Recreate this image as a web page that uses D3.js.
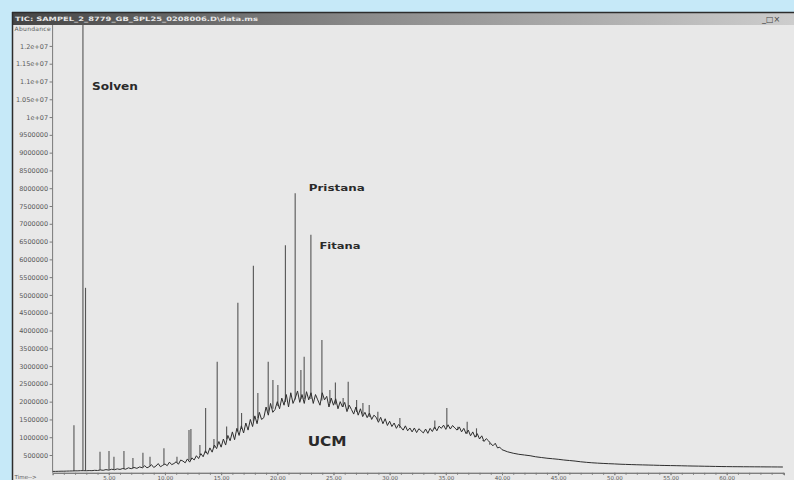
<!DOCTYPE html>
<html>
<head>
<meta charset="utf-8">
<script src="https://cdn.jsdelivr.net/npm/d3@7"></script>
<style>
  html, body { margin: 0; padding: 0; background: #c6e9f8; overflow: hidden; }
  svg { display: block; }
</style>
</head>
<body>
<div id="chart"></div>
<script>
// TIC chromatogram, values
// scan trace: abundance in thousands, sampled at a fixed step (min)
const scanAStart = 0, scanAStep = 0.25;
const scanA = [40, 40, 42, 45, 45, 48, 50, 52, 55, 55, 60, 60, 58, 62, 60, 70, 65,
    80, 70, 90, 75, 100, 85, 110, 95, 120, 100, 140, 115, 150, 125, 165, 140];

const scanBStart = 8.2, scanBStep = 0.2;
const scanB = [
    200, 140, 170, 230, 150,   190, 260, 170, 210, 250,
    200, 300, 230, 260, 310,   240, 360, 330, 280, 390,
    300, 420, 360, 480, 400,   540, 450, 620, 520, 700,
    580, 780, 680, 880, 720,   950, 780, 1050, 900, 1150,
    930, 1250, 1050, 1320, 1120,   1400, 1200, 1500, 1300, 1600,
    1380, 1700, 1500, 1550, 1850,   1620, 1950, 1700, 1780, 2000,
    1800, 2100, 1900, 2200, 1850,   2250, 1950, 2100, 2300, 1980,
    2200, 1950, 2280, 2050, 2250,   1950, 2200, 2050, 1900, 2250,
    2050, 2150, 1850, 2100, 1900,   2080, 1800, 2000, 1850, 1980,
    1720, 1900, 1780, 1650, 1850,   1620, 1800, 1580, 1700, 1550,
    1680, 1500, 1620, 1560, 1420,   1560, 1380, 1520, 1330, 1450,
    1300, 1400, 1250, 1360, 1280,   1200, 1320, 1180, 1260, 1150,
    1260, 1130, 1240, 1180, 1120,   1230, 1110, 1250, 1160, 1290,
    1180, 1310, 1250, 1340, 1220,   1350, 1230, 1330, 1260, 1200,
    1290, 1150, 1250, 1100, 1200,   1040, 1150, 1000, 1100, 950,
    1040, 880, 960, 900, 820,   760, 830, 700, 720, 650
];

const scanCStart = 40.5, scanCStep = 0.5;
const scanC = [590, 550, 520, 500, 480, 450, 430, 410, 395, 380,
    360, 345, 330, 310, 295, 282, 272, 264, 256, 250,
    242, 236, 231, 226, 222, 218, 214, 210, 206, 203,
    200, 197, 193, 190, 188, 185, 182, 179, 176, 174,
    172, 171, 170, 169, 168, 167, 166, 165, 164, 163];

// sharp peaks: retention time, top and foot (thousands)
const peakTimes = [1.90, 2.70, 2.93, 4.22, 5.02, 5.46, 6.35, 7.15, 8.04, 8.67, 9.91, 11.07,
    12.14, 12.31, 13.11, 13.62, 14.36, 14.65, 15.49, 16.49, 16.82, 17.87, 18.27, 19.19,
    19.61, 20.05, 20.72, 21.59, 22.10, 22.39, 22.99, 23.97, 24.68, 25.17, 25.86, 26.31,
    27.06, 27.62, 28.18, 28.95, 30.91, 34.02, 35.09, 36.07, 36.90, 37.73, 38.29, 38.91];
const peakTops = [1340, 14000, 5200, 590, 610, 450, 610, 415, 565, 450, 690, 450,
    1200, 1230, 780, 1820, 950, 3120, 1300, 4780, 1680, 5820, 2240, 3120,
    2610, 2470, 6400, 7860, 2890, 3260, 6690, 3730, 2330, 2540, 2100, 2560,
    2047, 1963, 1907, 1718, 1540, 1470, 1820, 1296, 1437, 1250, 922, 838];
const peakBases = [50, 60, 60, 80, 85, 90, 110, 125, 150, 175, 225, 280,
    350, 370, 500, 560, 700, 760, 940, 1160, 1230, 1440, 1530, 1720,
    1800, 1880, 1990, 2060, 2075, 2075, 2075, 2030, 1960, 1920, 1850, 1790,
    1710, 1640, 1570, 1480, 1260, 1230, 1290, 1200, 1100, 1010, 900, 790];

// annotations
const annoText = ["Solven", "Pristana", "Fitana", "UCM"];
const annoTime = [3.5, 22.8, 23.75, 22.7];
const annoAbund = [10760000, 7910000, 6280000, 740000];

// axis ticks
const yTickValues = [500000, 1000000, 1500000, 2000000, 2500000, 3000000, 3500000, 4000000,
    4500000, 5000000, 5500000, 6000000, 6500000, 7000000, 7500000, 8000000, 8500000,
    9000000, 9500000, 10000000, 10500000, 11000000, 11500000, 12000000];
const yTickLabels = ["500000", "1000000", "1500000", "2000000", "2500000", "3000000", "3500000",
    "4000000", "4500000", "5000000", "5500000", "6000000", "6500000", "7000000", "7500000",
    "8000000", "8500000", "9000000", "9500000", "1e+07", "1.05e+07", "1.1e+07", "1.15e+07", "1.2e+07"];
const xTickValues = [5, 10, 15, 20, 25, 30, 35, 40, 45, 50, 55, 60];
const xTickLabels = ["5.00", "10.00", "15.00", "20.00", "25.00", "30.00", "35.00", "40.00",
    "45.00", "50.00", "55.00", "60.00"];

const W = 794, H = 480;
const margin = { top: 26, right: 10, bottom: 7.2, left: 52.6 };
const plotW = 784 - margin.left, plotH = H - margin.bottom - margin.top;

const root = d3.select("#chart").append("svg")
    .attr("width", W).attr("height", H);

// window frame
const defs = root.append("defs");
const grad = defs.append("linearGradient").attr("id", "titlebar");
grad.append("stop").attr("offset", "0%").attr("stop-color", "#454545");
grad.append("stop").attr("offset", "45%").attr("stop-color", "#8a8a8a");
grad.append("stop").attr("offset", "100%").attr("stop-color", "#cdcdcd");
defs.append("clipPath").attr("id", "plotclip").append("rect")
    .attr("x", 0).attr("y", -1).attr("width", plotW).attr("height", plotH + 1);
defs.append("filter").attr("id", "soft")
    .append("feGaussianBlur").attr("stdDeviation", 0.3);

root.append("rect").attr("x", 12).attr("y", 12).attr("width", W - 12).attr("height", H - 12)
    .attr("fill", "#e8e8e8");
root.append("rect").attr("x", 12).attr("y", 12).attr("width", W - 12).attr("height", 13)
    .attr("fill", "url(#titlebar)");
root.append("line").attr("x1", 12).attr("x2", W).attr("y1", 12.5).attr("y2", 12.5)
    .attr("stroke", "#2c2c2c").attr("stroke-width", 1.5);
root.append("line").attr("x1", 12.5).attr("x2", 12.5).attr("y1", 12).attr("y2", H)
    .attr("stroke", "#2c2c2c").attr("stroke-width", 1.5);
root.append("text").attr("x", 15).attr("y", 21)
    .attr("font-family", "DejaVu Sans").attr("font-size", 6).attr("font-weight", "bold")
    .attr("fill", "#e6e6e6").attr("textLength", 243).attr("lengthAdjust", "spacingAndGlyphs")
    .text("TIC: SAMPEL_2_8779_GB_SPL25_0208006.D\\data.ms");
root.append("text").attr("x", 762).attr("y", 22)
    .attr("font-family", "DejaVu Sans").attr("font-size", 8).attr("fill", "#444")
    .text("_\u25a1\u00d7");

const svg = root.append("g")
    .attr("transform", `translate(${margin.left},${margin.top})`);

const x = d3.scaleLinear().domain([0, 65.1]).range([0, plotW]);
const y = d3.scaleLinear().domain([0, 12560000]).range([plotH, 0]);

// axes
const yAxis = svg.append("g")
    .call(d3.axisLeft(y).tickValues(yTickValues).tickFormat((d, i) => yTickLabels[i]).tickSize(3).tickPadding(1.5));
yAxis.select(".domain").attr("d", `M0,${-1}V${plotH}`);
yAxis.selectAll("text").attr("font-family", "DejaVu Sans").attr("font-size", 6.5).attr("fill", "#5a5a5a");

svg.append("g").attr("transform", `translate(0,${plotH})`)
    .call(d3.axisBottom(x).tickValues(d3.range(1, 66)).tickFormat("").tickSize(2));
const xAxis = svg.append("g").attr("transform", `translate(0,${plotH})`)
    .call(d3.axisBottom(x).tickValues(xTickValues).tickFormat((d, i) => xTickLabels[i]).tickSize(2.5).tickPadding(0.3));
xAxis.selectAll("text").attr("font-family", "DejaVu Sans").attr("font-size", 5.5).attr("fill", "#5a5a5a");

svg.selectAll(".domain, .tick line").attr("stroke", "#7a7a7a");

svg.append("text").attr("x", -38).attr("y", 5).attr("font-family", "DejaVu Sans")
    .attr("font-size", 6).attr("fill", "#5a5a5a").attr("textLength", 36).text("Abundance");
svg.append("text").attr("x", -38).attr("y", plotH + 6.6).attr("font-family", "DejaVu Sans")
    .attr("font-size", 5.5).attr("fill", "#5a5a5a").text("Time-->");

// build trace
const trace = [];
scanA.forEach((v, i) => trace.push({ t: scanAStart + i * scanAStep, v: v * 1000 }));
scanB.forEach((v, i) => trace.push({ t: scanBStart + i * scanBStep, v: v * 1000 }));
scanC.forEach((v, i) => trace.push({ t: scanCStart + i * scanCStep, v: v * 1000 }));

const peaks = peakTimes.map((t, i) => ({ t: t, top: peakTops[i] * 1000, base: peakBases[i] * 1000 }));

const plot = svg.append("g").attr("clip-path", "url(#plotclip)")
    .append("g").attr("filter", "url(#soft)");

plot.selectAll(".peak")
    .data(peaks)
    .enter()
    .append("line")
    .attr("class", "peak")
    .attr("x1", d => x(d.t))
    .attr("x2", d => x(d.t))
    .attr("y1", d => y(d.base))
    .attr("y2", d => y(d.top))
    .attr("stroke", "#555")
    .attr("stroke-width", 1.1);

plot.append("path")
    .datum(trace)
    .attr("fill", "none")
    .attr("stroke", "#2e2e2e")
    .attr("stroke-width", 1)
    .attr("d", d3.line().x(d => x(d.t)).y(d => y(d.v)));

// labels
const annoSize = [10, 9.5, 9.5, 13.5];
const annoWidth = [46, 56, 41, 39];
svg.selectAll(".anno")
    .data(annoText)
    .enter()
    .append("text")
    .attr("class", "anno")
    .attr("x", (d, i) => x(annoTime[i]))
    .attr("y", (d, i) => y(annoAbund[i]))
    .attr("font-family", "DejaVu Sans")
    .attr("font-weight", "bold")
    .attr("font-size", (d, i) => annoSize[i])
    .attr("textLength", (d, i) => annoWidth[i])
    .attr("lengthAdjust", "spacingAndGlyphs")
    .attr("fill", "#2a2a2a")
    .text(d => d);
</script>
</body>
</html>
